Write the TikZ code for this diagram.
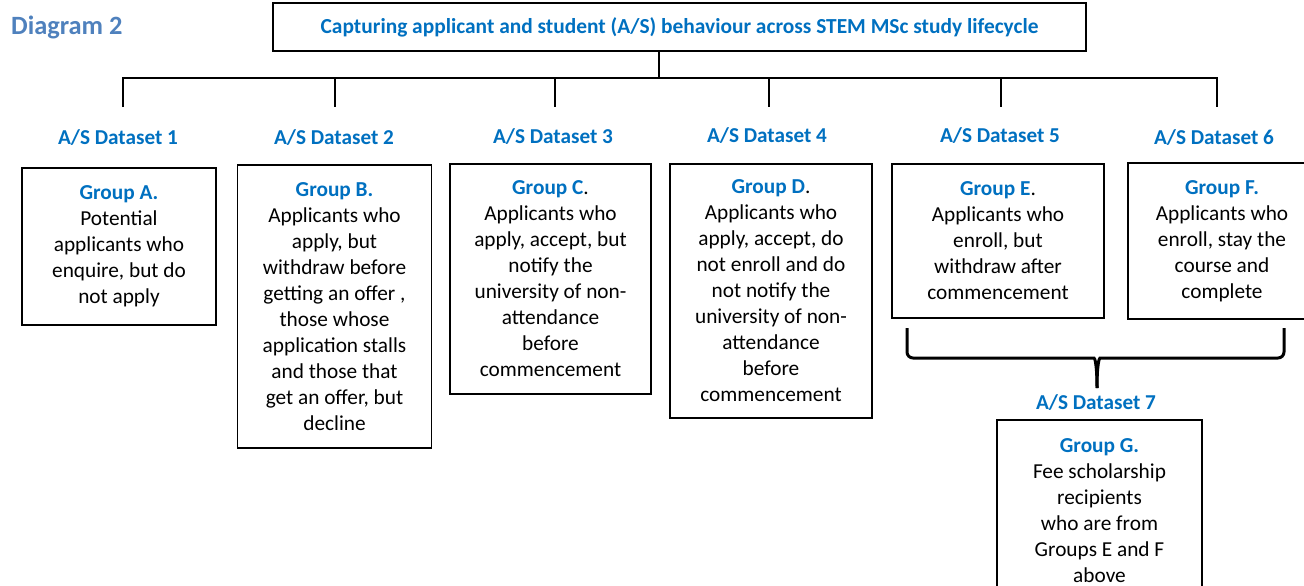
\documentclass[tikz,border=0pt]{standalone}
\usepackage{fontspec}
\setmainfont{Carlito}
\usepackage{tikz}
\usetikzlibrary{positioning}
\definecolor{asblue}{HTML}{0070C0}
\definecolor{diagblue}{HTML}{4F81BD}
\tikzstyle{group}   = [draw, line width=1.6pt, align=center, inner sep=0pt,
                       font=\fontsize{21.3}{26}\selectfont]
\tikzstyle{dslabel} = [anchor=base, text=asblue, font=\bfseries\fontsize{21.2}{25}\selectfont]
\newcommand{\grouptitle}[1]{\textcolor{asblue}{\bfseries Group #1}}

\begin{document}
\begin{tikzpicture}[x=1pt, y=-1pt, line width=1.6pt,
		brace/.style={line width=3pt, rounded corners=6pt},
		title/.style={draw, minimum width=813pt, minimum height=48pt, text=asblue,
				font=\bfseries\fontsize{21.4}{25}\selectfont}
	]
	\useasboundingbox (0,0) rectangle (1304,586);

	\node[anchor=base west, text=diagblue, font=\bfseries\fontsize{26.4}{30}\selectfont]
		(diag) at (7,34.3) {Diagram 2};
	\node[title] (top) at (679.5,27)
		{Capturing applicant and student (A/S) behaviour across STEM MSc study lifecycle};

	% tree
	\coordinate (bar) at (659,78);
	\foreach \i/\x in {1/123,2/335,3/555,4/769,5/1001,6/1217}
		\coordinate (drop\i) at (\x,107);
	\draw (bar |- top.south) -- (bar);
	\draw (drop1) |- (bar) -| (drop6);
	\foreach \i in {2,...,5}
		\draw (drop\i |- bar) -- (drop\i);

	% dataset labels
	\foreach \i/\x/\y in {1/118/144,2/334/144,3/553/143.3,4/767/142.7,5/1000/142.7,6/1214/144}
		\node[dslabel] (ds\i) at (\x,\y) {A/S Dataset \i};

	% groups
	\node[group, minimum width=194pt, minimum height=157pt] (grpA) at (119,246.5)
		{\grouptitle{A.}\\Potential\\applicants who\\enquire, but do\\not apply};
	\node[group, minimum width=194pt, minimum height=283pt] (grpB) at (334.5,306.5)
		{\grouptitle{B.}\\Applicants who\\apply, but\\withdraw before\\getting an offer ,\\those whose\\application stalls\\and those that\\get an offer, but\\decline};
	\node[group, minimum width=201pt, minimum height=230pt] (grpC) at (550.5,279)
		{\grouptitle{C}.\\Applicants who\\apply, accept, but\\notify the\\university of non-\\attendance\\before\\commencement};
	\node[group, minimum width=202pt, minimum height=254pt] (grpD) at (771,291)
		{\grouptitle{D}.\\Applicants who\\apply, accept, do\\not enroll and do\\not notify the\\university of non-\\attendance\\before\\commencement};
	\node[group, minimum width=212pt, minimum height=154pt] (grpE) at (998,241)
		{\grouptitle{E}.\\Applicants who\\enroll, but\\withdraw after\\commencement};
	\node[group, minimum width=188pt, minimum height=156pt] (grpF) at (1222,241)
		{\grouptitle{F.}\\Applicants who\\enroll, stay the\\course and\\complete};

	% brace over E and F
	\coordinate (braceL) at (907,328);
	\coordinate (braceR) at (1284,328);
	\coordinate (tip) at (1097,388);
	\draw[brace] (braceL) -- (907,358) -- (1088,358) .. controls (1095,358) and (1097,366) .. (tip);
	\draw[brace] (braceR) -- (1284,358) -- (1106,358) .. controls (1099,358) and (1097,366) .. (tip);

	\node[dslabel] (ds7) at (1096,409.3) {A/S Dataset 7};
	\node[group, minimum width=205pt, minimum height=182pt] (grpG) at (1099.5,511)
		{\grouptitle{G.}\\Fee scholarship\\recipients\\who are from\\Groups E and F\\above};
\end{tikzpicture}
\end{document}
